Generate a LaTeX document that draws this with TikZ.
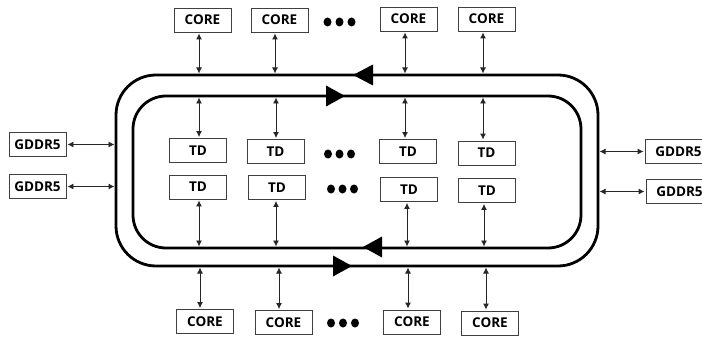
\documentclass[tikz,border=0pt]{standalone}
\usepackage{fontspec}
\newfontfamily\lab{Open Sans}[BoldFont={* Bold}]
\usetikzlibrary{arrows.meta}
\tikzset{
  box/.style={draw=black!75, line width=0.9pt, minimum width=57pt, minimum height=24pt, inner sep=0pt, font=\lab\bfseries\fontsize{13.5}{14}\selectfont},
  conn/.style={{Latex[length=6pt,width=6pt]}-{Latex[length=6pt,width=6pt]}, line width=0.9pt, draw=black!85, shorten >=1.5pt, shorten <=1pt},
  ring/.style={line width=2.8pt},
  tri/.style={fill=black},
  dotm/.style={fill=black}
}
\begin{document}
\begin{tikzpicture}[x=1pt,y=-1pt]
\useasboundingbox (0,0) rectangle (702,337);
% rings
\draw[ring, rounded corners=40pt] (116,75) rectangle (598,266);
\draw[ring, rounded corners=33pt] (133,96) rectangle (581,248);
% ring arrowheads
\fill[tri] (353,75) -- (373,64.5) -- (373,85.5) -- cycle;
\fill[tri] (345,96) -- (326,85.5) -- (326,106.5) -- cycle;
\fill[tri] (363,247) -- (382,236.5) -- (382,257.5) -- cycle;
\fill[tri] (352,266) -- (333,255.5) -- (333,276.5) -- cycle;
% top cores
\node[box] (ct1) at (202.5,20) {CORE};
\node[box] (ct2) at (279.5,20) {CORE};
\node[box] (ct3) at (408.5,19) {CORE};
\node[box] (ct4) at (486.5,19) {CORE};
% TD row 1
\node[box] (ta1) at (198,150.5) {TD};
\node[box] (ta2) at (275.5,151.5) {TD};
\node[box] (ta3) at (408,151.5) {TD};
\node[box] (ta4) at (486.5,153) {TD};
% TD row 2
\node[box] (tb1) at (198,187) {TD};
\node[box] (tb2) at (277,187.5) {TD};
\node[box] (tb3) at (409,189.5) {TD};
\node[box] (tb4) at (487,190.5) {TD};
% bottom cores
\node[box] (cb1) at (205,321.5) {CORE};
\node[box] (cb2) at (283.5,322.5) {CORE};
\node[box] (cb3) at (412,322) {CORE};
\node[box] (cb4) at (490,323) {CORE};
% GDDR5
\node[box] (gl1) at (37.5,144.5) {GDDR5};
\node[box] (gl2) at (37.5,186.5) {GDDR5};
\node[box, minimum width=67pt] (gr1) at (678.5,151.5) {GDDR5};
\node[box, minimum width=67pt] (gr2) at (679.5,191.5) {GDDR5};
% ring attachment points
\coordinate (ot1) at (199,75);  \coordinate (ot2) at (275,75);
\coordinate (ot3) at (405,75);  \coordinate (ot4) at (483,75);
\coordinate (it1) at (199,96);  \coordinate (it2) at (276,96);
\coordinate (it3) at (405,96);  \coordinate (it4) at (483,96);
\coordinate (ib1) at (199,248); \coordinate (ib2) at (276,248);
\coordinate (ib3) at (407,248); \coordinate (ib4) at (484,248);
\coordinate (ob1) at (200,266); \coordinate (ob2) at (279,266);
\coordinate (ob3) at (408,266); \coordinate (ob4) at (486,266);
\coordinate (ol1) at (116,144.5); \coordinate (ol2) at (116,186.5);
\coordinate (or1) at (598,151.5); \coordinate (or2) at (598,191.5);
% connectors
\foreach \i in {1,2,3,4}{
  \draw[conn] (ct\i.south -| ot\i) -- (ot\i);
  \draw[conn] (ta\i.north -| it\i) -- (it\i);
  \draw[conn] (tb\i.south -| ib\i) -- (ib\i);
  \draw[conn] (cb\i.north -| ob\i) -- (ob\i);
}
\draw[conn] (gl1.east) -- (ol1);
\draw[conn] (gl2.east) -- (ol2);
\draw[conn] (gr1.west) -- (or1);
\draw[conn] (gr2.west) -- (or2);
% ellipsis dots
\foreach \x in {327.5,339.5,351.5} \fill[dotm] (\x,22) ellipse (4pt and 4.5pt);
\foreach \x in {328,339.5,351} \fill[dotm] (\x,154) ellipse (4pt and 4.5pt);
\foreach \x in {331,342.5,354} \fill[dotm] (\x,189) ellipse (4pt and 4.5pt);
\foreach \x in {331,343,355} \fill[dotm] (\x,323) ellipse (4pt and 4.5pt);
\end{tikzpicture}
\end{document}
